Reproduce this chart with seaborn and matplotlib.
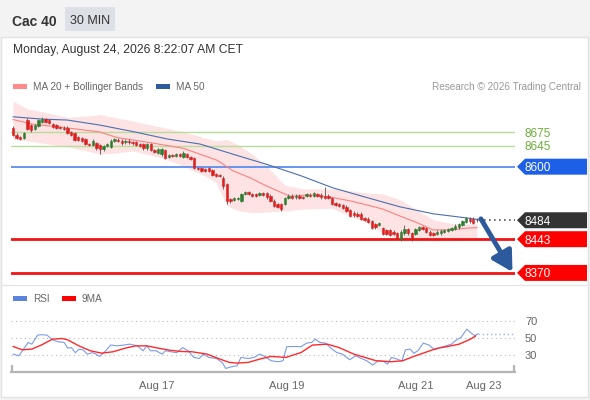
import numpy as np
import matplotlib
matplotlib.use("Agg")
import matplotlib.pyplot as plt
from matplotlib.patches import Rectangle, Polygon
import seaborn as sns

# ---------------- data ----------------
opens = [8684,8669,8664,8662,8701,8690,8682,8688,8697,8703,
         8701,8692,8690,8686,8684,8684,8675,8673,8664,8662,
         8660,8649,8647,8651,8647,8638,8645,8643,8656,8658,
         8656,8653,8656,8653,8653,8649,8649,8640,8649,8636,
         8630,8627,8636,8621,8625,8623,8627,8621,8627,8621,
         8619,8597,8597,8595,8597,8593,8584,8582,8575,8562,
         8530,8528,8530,8526,8541,8545,8541,8541,8539,8543,
         8543,8537,8526,8519,8519,8519,8532,8537,8534,8537,
         8534,8537,8539,8537,8541,8539,8537,8537,8532,8521,
         8519,8517,8513,8506,8500,8498,8498,8489,8487,8482,
         8476,8474,8467,8463,8463,8459,8456,8443,8456,8465,
         8456,8454,8463,8469,8467,8459,8456,8454,8456,8459,
         8461,8463,8465,8469,8474,8480,8487,8487,8485]
closes = [8669,8662,8660,8673,8682,8679,8690,8701,8703,8697,
          8695,8686,8684,8684,8682,8673,8669,8658,8658,8656,
          8649,8647,8656,8640,8638,8645,8649,8656,8660,8656,
          8651,8656,8653,8651,8647,8645,8640,8649,8636,8632,
          8638,8638,8619,8625,8623,8627,8623,8630,8621,8617,
          8597,8595,8591,8591,8591,8582,8580,8580,8558,8526,
          8526,8532,8532,8541,8545,8541,8537,8537,8543,8539,
          8534,8526,8515,8513,8508,8532,8537,8532,8537,8532,
          8532,8541,8537,8543,8537,8534,8532,8532,8519,8517,
          8515,8511,8504,8493,8495,8493,8487,8485,8480,8467,
          8469,8478,8454,8454,8452,8454,8446,8459,8465,8456,
          8443,8465,8469,8465,8459,8452,8452,8459,8461,8463,
          8465,8467,8472,8476,8482,8489,8482,8478,8484]
highs = [8688,8672,8667,8676,8705,8693,8693,8704,8707,8706,
         8704,8695,8693,8689,8687,8687,8678,8676,8667,8665,
         8663,8652,8659,8654,8650,8648,8652,8659,8663,8661,
         8659,8659,8659,8656,8656,8652,8652,8652,8652,8639,
         8641,8641,8639,8628,8628,8630,8630,8634,8630,8624,
         8622,8600,8600,8598,8600,8596,8587,8585,8580,8565,
         8533,8535,8535,8544,8548,8548,8544,8544,8546,8546,
         8546,8540,8529,8522,8522,8535,8540,8540,8540,8540,
         8537,8544,8542,8546,8544,8542,8556,8540,8535,8524,
         8522,8520,8516,8509,8503,8501,8501,8492,8490,8485,
         8479,8481,8470,8466,8466,8462,8459,8462,8474,8468,
         8459,8468,8472,8472,8470,8462,8459,8462,8464,8466,
         8468,8470,8475,8479,8485,8492,8490,8490,8488]
lows = [8666,8659,8657,8659,8679,8676,8679,8686,8694,8694,
        8692,8683,8681,8681,8679,8670,8666,8655,8655,8653,
        8646,8644,8644,8636,8627,8635,8642,8640,8653,8653,
        8648,8650,8650,8648,8644,8642,8637,8637,8633,8629,
        8627,8624,8616,8618,8620,8620,8620,8618,8618,8614,
        8594,8592,8588,8588,8588,8579,8577,8577,8552,8519,
        8521,8525,8527,8523,8538,8538,8534,8534,8536,8536,
        8531,8523,8512,8510,8505,8516,8529,8529,8531,8529,
        8529,8534,8534,8534,8534,8531,8529,8529,8516,8514,
        8512,8508,8501,8490,8492,8490,8484,8482,8477,8464,
        8466,8471,8451,8451,8449,8451,8443,8440,8453,8453,
        8440,8451,8460,8462,8456,8449,8449,8451,8453,8456,
        8458,8460,8462,8466,8471,8477,8479,8475,8481]

ma20_x = [0, 5.5, 14.9, 24, 28.7, 37.8, 46.9, 51.6, 56.3, 60.7, 65.4, 70,
          76.4, 81.9, 88.3, 93, 97.7, 102.1, 106.8, 111.4, 115.9, 120.6, 125.2, 128]
ma20 = [8702, 8692, 8684, 8675, 8663, 8652, 8640, 8627, 8614, 8591, 8576, 8558,
        8536, 8539, 8533, 8526, 8517, 8508, 8493, 8479, 8463, 8463, 8467, 8468]

ma50_x = [0, 8, 14.9, 24, 33.1, 42.5, 51.6, 60.7, 70, 79.2, 88.3, 97.7,
          106.8, 115.9, 125.2, 128.8]
ma50 = [8708, 8703, 8701, 8690, 8676, 8660, 8649, 8627, 8605, 8581, 8554, 8533,
        8513, 8498, 8489, 8485]

band_x = [0, 4, 8, 15, 21, 24, 29, 33, 37, 42, 46, 50, 53, 56, 59, 62, 66, 70,
          75, 80, 88, 93, 98, 102, 107, 111, 116, 121, 125, 128]
band_up = [8742, 8725, 8719, 8707, 8710, 8713, 8705, 8699, 8692, 8684, 8677, 8669,
           8662, 8656, 8659, 8648, 8627, 8601, 8560, 8552, 8552, 8548, 8543, 8541,
           8528, 8508, 8485, 8477, 8476, 8476]
band_lo = [8660, 8656, 8651, 8643, 8633, 8627, 8630, 8634, 8627, 8616, 8605, 8590,
           8580, 8566, 8515, 8505, 8500, 8502, 8504, 8508, 8510, 8493, 8477, 8456,
           8443, 8440, 8439, 8440, 8443, 8446]

rsi_x = [0, 1.6, 3.2, 4.2, 5.2, 6.8, 7.8, 9.4, 10.9, 12.5, 14.1, 15.1, 16.1, 17.2,
         18.2, 19.3, 20.5, 21.9, 22.9, 23.9, 25.3, 27.0, 28.6, 30.7, 32.2, 34.3,
         35.9, 36.9, 37.9, 39.5, 41.1, 42.1, 43.7, 45.2, 46.8, 48.3, 49.9, 51.4,
         52.5, 54.0, 56.1, 57.7, 58.7, 60.3, 61.8, 62.9, 64.9, 66.5, 68.1, 69.6,
         71.2, 73.2, 74.5, 75.5, 77.4, 79.5, 81.0, 82.4, 83.4, 84.7, 86.2, 87.8,
         89.3, 90.9, 92.9, 94.5, 96.1, 97.6, 99.2, 100.8, 102.3, 103.3, 104.4,
         105.9, 107.3, 108.3, 109.6, 110.6, 111.7, 113.2, 114.8, 116.3, 117.9,
         119.4, 121.0, 122.0, 123.6, 125.2, 126.2, 127.4, 128.3]
rsi = [31.4, 29.4, 39, 45, 43, 53.5, 54, 53.5, 48, 45.7, 45, 38.4, 39, 33,
       37, 36.4, 31.4, 33, 31.4, 28.7, 34, 42, 41, 42, 43, 41,
       35.3, 41, 35.3, 35.3, 31.4, 35.3, 34, 33, 39, 35.3, 27.5, 26.3,
       31.4, 27.5, 26.3, 21.7, 14.7, 16.6, 17.8, 27.5, 26.3, 27.5, 31.4, 28.3,
       23.6, 22.5, 23.6, 40, 40.3, 40, 44.2, 45, 48.8, 45, 44.2, 38,
       33.3, 31.4, 24.8, 29.4, 26.3, 23.6, 18.6, 23.6, 22.8, 19.7, 27.5,
       25.6, 23.6, 36.4, 37.2, 32.2, 35.3, 44.2, 41.9, 36.4, 39.1,
       41, 43, 46.9, 50.8, 60.5, 56.6, 52.7, 55.4]

rsi_ma_x = [0, 2.6, 5.2, 7.8, 10.9, 13.5, 15.1, 18.2, 21.3, 24.4, 27.6, 30.7, 33.8,
            36.9, 40, 43.1, 46.2, 49.4, 53.5, 56.6, 59.7, 61.8, 64.9, 68.1, 71.2,
            75.3, 79.5, 82.6, 86.7, 89.9, 94, 97.1, 100.2, 104.4, 107.5, 110.6,
            113.7, 116.9, 120, 123.1, 126.2, 127.7]
rsi_ma = [40.3, 36.4, 37.2, 41.9, 48.8, 49.6, 48, 41, 35.3, 32.5, 34.1, 38, 41,
          41, 38.4, 36, 34.5, 34.1, 31.4, 26.3, 21.7, 20.9, 21.7, 25.6, 28.7,
          27.5, 33.3, 41.9, 43, 39.1, 31.4, 27.5, 23.6, 22.5, 23.6, 28.7,
          33.3, 38, 40.3, 43, 48.8, 52.7]

date_ticks = [39.7, 75.6, 111.2, 129.9]
date_labels = ["Aug 17", "Aug 19", "Aug 21", "Aug 23"]

green_levels = [8675, 8645]
blue_level = 8600
last_price = 8484
red_levels = [8443, 8370]
arrow_from = (129.1, 8487)
arrow_to = (137.8, 8372)
rsi_grid = [30, 50, 70]

# ---------------- style ----------------
sns.set_theme(style="white")
plt.rcParams['font.family'] = ['Liberation Sans', 'DejaVu Sans']

W, H = 590, 400
fig = plt.figure(figsize=(W / 100, H / 100), dpi=100)
fig.patch.set_facecolor('#f3f3f3')

def fx(px):
    return px / W

def fy(py):
    return 1 - py / H

# white chart card + header (drawn behind the axes)
fig.patches.append(Rectangle((fx(1), fy(397)), fx(587), (396 - 36) / H,
                             transform=fig.transFigure, fc='white', ec='#e2e2e2',
                             lw=1, zorder=-5))
fig.patches.append(Rectangle((fx(65), fy(31)), fx(50), 24 / H,
                             transform=fig.transFigure, fc='#dde0e6', ec='none',
                             zorder=-5))
fig.lines.append(plt.Line2D([fx(1), fx(588)], [fy(284.5), fy(284.5)],
                            transform=fig.transFigure, color='#e6e6e6', lw=1,
                            zorder=-4))
fig.text(fx(12), fy(20), "Cac 40", fontsize=10, fontweight='bold', color='#333333',
         va='center_baseline')
fig.text(fx(90), fy(20), "30 MIN", fontsize=9, color='#333333',
         va='center_baseline', ha='center')
fig.text(fx(13), fy(49), "Monday, August 24, 2026 8:22:07 AM CET", fontsize=8.7,
         color='#333333', va='center_baseline')

# legends
def legend_patch(x, y, color, label):
    fig.patches.append(Rectangle((fx(x), fy(y + 2.5)), fx(14), 5 / H,
                                 transform=fig.transFigure, fc=color, ec='none'))
    fig.text(fx(x + 20), fy(y + 0.5), label, fontsize=7.2, color='#666666',
             va='center_baseline')

legend_patch(13, 86, '#ff8a8a', "MA 20 + Bollinger Bands")
legend_patch(156, 86, '#2d5c9e', "MA 50")
fig.text(fx(581), fy(86.5), "Research \u00a9 2026 Trading Central", fontsize=7.2,
         color='#999999', va='center_baseline', ha='right')
legend_patch(13, 298, '#5b84de', "RSI")
legend_patch(62, 298, '#ff0000', "9MA")

# ---------------- main price panel ----------------
xmin, xmax = -0.55, 138.5
ax = fig.add_axes([fx(11), fy(284), fx(504), 188 / H])
ax.set_xlim(xmin, xmax)
ax.set_ylim(8346, 8753)
ax.axis('off')

ax.fill_between(band_x, band_lo, band_up, color='#fde3e3', lw=0, zorder=1)

for lv in green_levels:
    ax.axhline(lv, color='#b8dc9a', lw=1, zorder=2)
ax.axhline(blue_level, color='#5a8ef0', lw=1.3, zorder=2)
for lv in red_levels:
    ax.axhline(lv, color='#f01414', lw=2, zorder=2)

sns.lineplot(x=ma20_x, y=ma20, ax=ax, color='#ff8080', lw=0.8, sort=False,
             estimator=None, zorder=3)
sns.lineplot(x=ma50_x, y=ma50, ax=ax, color='#4a6fb0', lw=0.8, sort=False,
             estimator=None, zorder=3)

o = np.array(opens, float)
c = np.array(closes, float)
hi = np.array(highs, float)
lo = np.array(lows, float)
idx = np.arange(len(c))
cols = np.where(c >= o, '#2e7d32', '#dd1f1f')
ax.vlines(idx, lo, hi, color='#555555', lw=0.6, zorder=4)
ax.bar(idx, np.abs(c - o), bottom=np.minimum(o, c), width=0.65, color=cols,
       edgecolor=cols, linewidth=0.4, zorder=5)

ax.hlines(last_price, idx[-1] + 0.6, xmax, color='#555555', lw=1.2,
          linestyles=(0, (1, 2)), zorder=3)

ax.annotate('', xy=arrow_to, xytext=arrow_from, annotation_clip=False,
            arrowprops=dict(arrowstyle='-|>,head_length=0.8,head_width=0.45',
                            lw=3.5, color='#2c5a9c', mutation_scale=15,
                            shrinkA=0, shrinkB=0), zorder=6)

ytr = ax.get_yaxis_transform()

def tag(y, color, label, half=17.3):
    x0, xn, x1 = 1.004, 1.0198, 1.1429
    ax.add_patch(Polygon([(x0, y), (xn, y + half), (x1, y + half), (x1, y - half),
                          (xn, y - half)], closed=True, transform=ytr,
                         clip_on=False, fc=color, ec='none', zorder=7))
    ax.text(1.0198, y, label, transform=ytr, color='white', fontsize=8.5,
            va='center_baseline', ha='left', clip_on=False, zorder=8)

for lv in green_levels:
    ax.text(1.0198, lv, str(lv), transform=ytr, color='#6aad3a', fontsize=8.5,
            va='center_baseline', ha='left', clip_on=False)
tag(blue_level, '#1e5fe8', str(blue_level))
tag(last_price, '#333333', str(last_price))
for lv in red_levels:
    tag(lv, '#ff0000', str(lv))

# ---------------- RSI panel ----------------
ax2 = fig.add_axes([fx(11), fy(372), fx(504), 66 / H])
ax2.set_xlim(xmin, xmax)
ax2.set_ylim(10.5, 87.5)
ax2.set_facecolor('none')
for s in ['top', 'left', 'right']:
    ax2.spines[s].set_visible(False)
ax2.spines['bottom'].set_color('#b5b5b5')
ax2.spines['bottom'].set_linewidth(1.6)
ax2.set_yticks([])
ax2.set_xticks(date_ticks)
ax2.set_xticklabels(date_labels, fontsize=8, color='#666666')
ax2.tick_params(axis='x', which='both', bottom=True)
ax2.tick_params(axis='x', which='major', length=0, pad=6.5)
ax2.set_xticks([xmin + 0.2, xmax - 0.2], minor=True)
ax2.tick_params(axis='x', which='minor', direction='in', length=5, width=1.6,
                color='#b5b5b5')

for g in rsi_grid:
    ax2.axhline(g, color='#bbbbbb', lw=0.8, ls=(0, (1, 3)), zorder=1)
    ax2.text(1.0198, g, str(g), transform=ax2.get_yaxis_transform(), fontsize=8,
             color='#666666', va='center_baseline', ha='left', clip_on=False)

sns.lineplot(x=rsi_x, y=rsi, ax=ax2, color='#7b9ce8', lw=0.8, sort=False,
             estimator=None, zorder=3)
sns.lineplot(x=rsi_ma_x, y=rsi_ma, ax=ax2, color='#ff2a2a', lw=1.0, sort=False,
             estimator=None, zorder=4)
ax2.hlines(rsi[-1], rsi_x[-1], xmax, color='#9ab2ee', lw=1.0,
           linestyles=(0, (1, 2)), zorder=3)
ax2.set_xlabel('')
ax2.set_ylabel('')

fig.savefig('out.png', dpi=100, facecolor=fig.get_facecolor())
